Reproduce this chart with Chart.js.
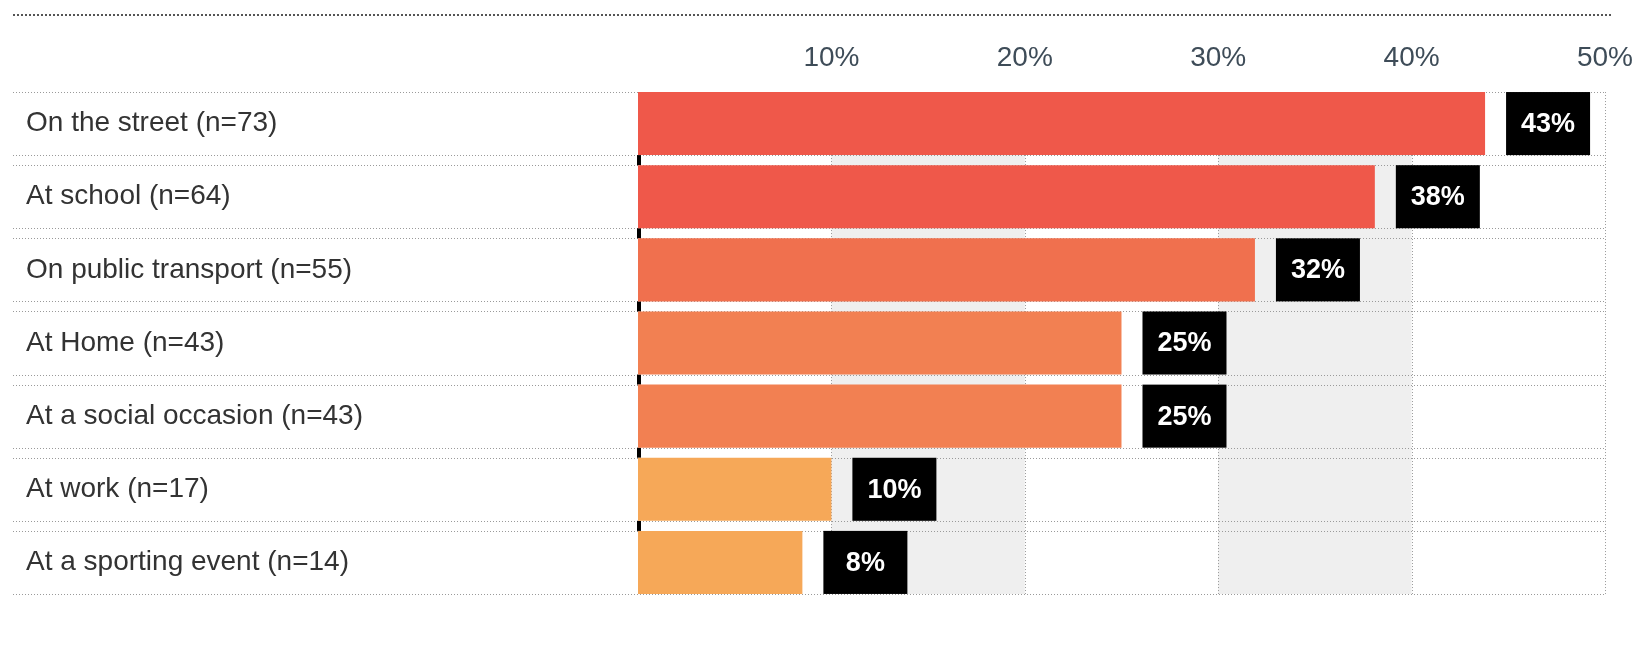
<!DOCTYPE html>
<html><head><meta charset="utf-8">
<script src="https://cdn.jsdelivr.net/npm/chart.js@4/dist/chart.umd.min.js"></script>
<style>html,body{margin:0;padding:0;background:#fff;} #wrap{width:1645px;height:659px;position:relative}</style>
</head><body><div id="wrap"><canvas id="c" width="1645" height="659"></canvas></div>
<script>
const categories = [
  'On the street (n=73)',
  'At school (n=64)',
  'On public transport (n=55)',
  'At Home (n=43)',
  'At a social occasion (n=43)',
  'At work (n=17)',
  'At a sporting event (n=14)'
];
const values = [43.8, 38.1, 31.9, 25.0, 25.0, 10.0, 8.5];
const valueLabels = ['43%', '38%', '32%', '25%', '25%', '10%', '8%'];
const barColors = ['#EF584A', '#EF584A', '#F0704E', '#F28052', '#F28052', '#F6A858', '#F6A858'];
const tickValues = [10, 20, 30, 40, 50];
const tickLabels = ['10%', '20%', '30%', '40%', '50%'];
const shadedBands = [[10, 20], [30, 40]];

const FONT = '"Liberation Sans", Arial, Helvetica, sans-serif';

const framePlugin = {
  id: 'frame',
  beforeDraw(chart) {
    const ctx = chart.ctx;
    ctx.save();
    ctx.strokeStyle = '#555';
    ctx.lineWidth = 2;
    ctx.setLineDash([2, 2]);
    ctx.beginPath();
    ctx.moveTo(13, 15);
    ctx.lineTo(1613, 15);
    ctx.stroke();
    ctx.restore();
  },
  beforeDatasetsDraw(chart) {
    const ctx = chart.ctx;
    const xs = chart.scales.x;
    const bars = chart.getDatasetMeta(0).data;
    const top = bars[0].y - bars[0].height / 2;
    const last = bars[bars.length - 1];
    const bottom = last.y + last.height / 2;
    ctx.save();
    // shaded columns
    ctx.fillStyle = '#EFEFEF';
    shadedBands.forEach(([a, b]) => {
      const x1 = xs.getPixelForValue(a), x2 = xs.getPixelForValue(b);
      ctx.fillRect(x1, top, x2 - x1, bottom - top);
    });
    // vertical dotted gridlines
    ctx.strokeStyle = '#9a9a9a';
    ctx.lineWidth = 1;
    ctx.setLineDash([1, 2]);
    tickValues.forEach(v => {
      const x = Math.round(xs.getPixelForValue(v)) + 0.5;
      ctx.beginPath();
      ctx.moveTo(x, top);
      ctx.lineTo(x, bottom);
      ctx.stroke();
    });
    // horizontal dotted row lines
    const xEnd = xs.getPixelForValue(tickValues[tickValues.length - 1]);
    bars.forEach(b => {
      [b.y - b.height / 2, b.y + b.height / 2].forEach(yy => {
        const y = Math.round(yy) + 0.5;
        ctx.beginPath();
        ctx.moveTo(13, y);
        ctx.lineTo(xEnd, y);
        ctx.stroke();
      });
    });
    // black zero-axis segments in the gaps between bars
    ctx.setLineDash([]);
    ctx.fillStyle = '#000';
    const x0 = xs.getPixelForValue(0);
    for (let i = 0; i < bars.length - 1; i++) {
      const y1 = bars[i].y + bars[i].height / 2;
      const y2 = bars[i + 1].y - bars[i + 1].height / 2;
      ctx.fillRect(x0 - 1, y1, 4, y2 - y1);
    }
    ctx.restore();
  },
  afterDatasetsDraw(chart) {
    const ctx = chart.ctx;
    const bars = chart.getDatasetMeta(0).data;
    ctx.save();
    bars.forEach((b, i) => {
      const h = b.height;
      const bx = b.x + 21;
      const by = b.y - h / 2;
      ctx.fillStyle = '#000';
      ctx.fillRect(bx, by, 84, h);
      ctx.fillStyle = '#fff';
      ctx.font = 'bold 27px ' + FONT;
      ctx.textAlign = 'center';
      ctx.textBaseline = 'middle';
      ctx.fillText(valueLabels[i], bx + 42, b.y + 1);
    });
    ctx.restore();
  }
};

new Chart(document.getElementById('c'), {
  type: 'bar',
  data: {
    labels: categories,
    datasets: [{
      data: values,
      backgroundColor: barColors,
      borderWidth: 0,
      barPercentage: 0.862,
      categoryPercentage: 1
    }]
  },
  options: {
    indexAxis: 'y',
    responsive: false,
    animation: false,
    events: [],
    layout: { padding: { left: 26, right: 40, top: 0, bottom: 60 } },
    plugins: { legend: { display: false }, tooltip: { enabled: false } },
    scales: {
      x: {
        position: 'top',
        min: 0,
        max: 50,
        afterBuildTicks(scale) { scale.ticks = tickValues.map(v => ({ value: v })); },
        afterFit(scale) { scale.height = 87; },
        grid: { display: false, drawTicks: false },
        border: { display: false },
        ticks: {
          padding: 12,
          color: '#3E4C58',
          font: { family: FONT, size: 28 },
          maxRotation: 0,
          autoSkip: false,
          callback(value) { const i = tickValues.indexOf(value); return i >= 0 ? tickLabels[i] : ''; }
        }
      },
      y: {
        afterFit(scale) { scale.width = 612; },
        grid: { display: false, drawTicks: false },
        border: { display: false },
        ticks: {
          crossAlign: 'far',
          color: '#333333',
          font: { family: FONT, size: 28 },
          autoSkip: false
        }
      }
    }
  },
  plugins: [framePlugin]
});
</script>
</body></html>
